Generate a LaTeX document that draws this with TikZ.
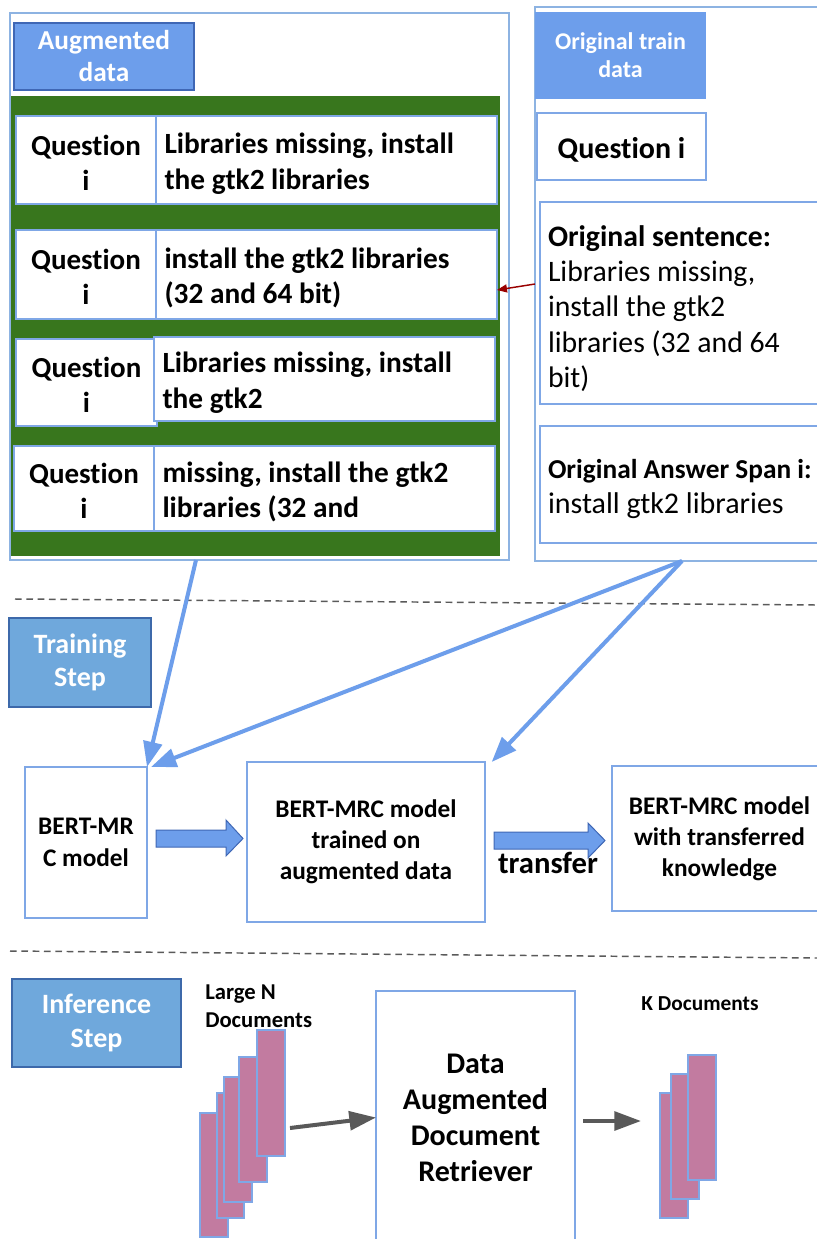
\documentclass[tikz,border=0pt]{standalone}
\usepackage{fontspec}
\setmainfont{Carlito}[Ligatures=NoCommon]
\usetikzlibrary{arrows.meta}
\definecolor{hdrblue}{HTML}{6D9EEB}
\definecolor{hdrborder}{HTML}{3F67B5}
\definecolor{stepblue}{HTML}{6FA8DC}
\definecolor{stepborder}{HTML}{3D69AA}
\definecolor{framblue}{HTML}{8DB3E2}
\definecolor{cellblue}{HTML}{7FA7E6}
\definecolor{greenbg}{HTML}{38761D}
\definecolor{docpink}{HTML}{C27BA0}
\definecolor{arrowblue}{HTML}{6D9EEB}
\definecolor{arrowgray}{HTML}{595959}
\definecolor{darkred}{HTML}{990000}
\definecolor{dashgray}{HTML}{5A5A5A}
\newcommand\fs[2]{\fontsize{#1}{#2}\selectfont}
\newcommand\up[1]{\rule{0pt}{#1}}
\newcommand\bx[7]{\node[#6, minimum width={(#4-#2)*0.75pt}, minimum height={(#5-#3)*0.75pt}, anchor=north west] (#1) at (#2,#3) {#7};}
\tikzset{
  base/.style={inner sep=0pt, outer sep=0pt, line width=0.9pt},
  frame/.style={base, draw=framblue, fill=white},
  cell/.style={base, draw=cellblue, fill=white},
  hdr/.style={base, fill=hdrblue, draw=hdrborder, text=white, align=center},
  stepbox/.style={base, fill=stepblue, draw=stepborder, text=white, align=center},
  greenpanel/.style={base, fill=greenbg, draw=none},
  doc/.style={base, fill=docpink, draw=cellblue},
  bluearrow/.style={draw=arrowblue, line width=3pt, -{Triangle[length=19pt,width=14pt]}},
  grayarrow/.style={draw=arrowgray, line width=3pt, -{Triangle[length=20pt,width=14pt]}},
  redarrow/.style={draw=darkred, line width=1.1pt, -{Triangle[length=7.5pt,width=6pt]}},
  blockarrow/.style={fill=arrowblue, draw=hdrborder, line width=0.75pt},
  sepline/.style={draw=dashgray, line width=1.1pt, dash pattern=on 5pt off 3.5pt},
  qcell/.style={cell, align=center, font={\bfseries\fs{21.75}{26.3}}},
  acell/.style={cell, align=flush left, text width=243pt, font={\bfseries\fs{22}{26.5}}},
}
\begin{document}
\begin{tikzpicture}[x=0.75pt,y=-0.75pt]
\path[use as bounding box, clip] (0,0) rectangle (817,1239);
\fill[white] (0,0) rectangle (817,1239);

% separators
\coordinate (s1a) at (15,599); \coordinate (s1b) at (817,605);
\coordinate (s2a) at (10,951); \coordinate (s2b) at (817,958);
\draw[sepline] (s1a) -- (s1b);
\draw[sepline] (s2a) -- (s2b);

% augmented data panel
\bx{augouter}{10}{13}{509}{560}{frame}{}
\bx{aughdr}{14}{23}{194}{90}{hdr, font={\bfseries\fs{20.5}{24}}}{Augmented\\data}
\bx{green}{11}{96}{500}{556}{greenpanel}{}
\bx{q1}{16}{116}{156}{204}{qcell}{\up{19pt}Question\\i}
\bx{a1}{156}{116}{497}{204}{acell}{\up{21pt}Libraries missing, install\\the gtk2 libraries}
\bx{q2}{16}{230}{156}{319}{qcell}{\up{19pt}Question\\i}
\bx{a2}{156}{230}{497}{319}{acell}{\up{21pt}install the gtk2 libraries\\(32 and 64 bit)}
\bx{q3}{16}{339}{157}{426}{qcell}{\up{19pt}Question\\i}
\bx{a3}{154}{337}{495}{421}{acell}{\up{21pt}Libraries missing, install\\the gtk2}
\bx{q4}{14}{446}{154}{531}{qcell}{\up{19pt}Question\\i}
\bx{a4}{154}{446}{495}{531}{acell}{\up{21pt}missing, install the gtk2\\libraries (32 and}

% original train data panel
\bx{origouter}{535}{7}{830}{561}{frame}{}
\bx{orighdr}{535}{12}{706}{99}{hdr, draw=none, font={\bfseries\fs{18}{21}}}{Original train\\data}
\bx{origq}{537}{113}{706}{180}{cell, font={\bfseries\fs{22.5}{27}}}{\up{20.5pt}Question i}
\bx{sent}{540}{202}{830}{404}{cell, align=flush left, text width=205.5pt, font={\fs{22.3}{26.6}}}{\up{24pt}\textbf{Original sentence:}\\Libraries missing,\\install the gtk2\\libraries (32 and 64\\bit)}
\bx{ans}{540}{426}{830}{543}{cell, align=flush left, text width=205.5pt, font={\fs{22.5}{26.3}}}{\up{21.5pt}{\fs{20.5}{26.3}\bfseries Original Answer Span i:}\\install gtk2 libraries}

% red arrow
\draw[redarrow] (origouter.west |- 0,284) -- (a2.east |- 0,290);

% training step
\bx{train}{9}{618}{151}{707}{stepbox, font={\bfseries\fs{21}{25}}}{Training\\Step}
\bx{bert1}{25}{767}{147}{918}{cell, align=center, font={\bfseries\fs{19}{24}}}{BERT-MR\\C model}
\bx{bert2}{247}{762}{485}{922}{cell, align=center, font={\bfseries\fs{19}{23.3}}}{BERT-MRC model\\trained on\\augmented data}
\bx{bert3}{612}{766}{827}{911}{cell, align=center, font={\bfseries\fs{19}{23.3}}}{BERT-MRC model\\with transferred\\knowledge}

% block arrows
\draw[blockarrow] (156,830) -- (226,830) -- (226,820) -- (243,838.5) -- (226,856) -- (226,847) -- (156,847) -- cycle;
\draw[blockarrow] (494,832) -- (588,832) -- (588,823) -- (605,840.5) -- (588,858) -- (588,849) -- (494,849) -- cycle;
\node[font={\bfseries\fs{23}{27}}, anchor=base, inner sep=0pt] (transfer) at (548,873) {transfer};

% blue arrows
\coordinate (augout) at (196,560);
\coordinate (origout) at (682,561);
\draw[bluearrow] (augout) -- (bert1.north east);
\draw[bluearrow] (origout) -- ([xshift=3pt]bert1.north east);
\draw[bluearrow] (origout) -- ([xshift=5pt]bert2.north east);

% inference step
\bx{infer}{12}{979}{181}{1067}{stepbox, font={\bfseries\fs{21}{25.5}}}{Inference\\Step}
\node[font={\bfseries\fs{17}{21}}, align=left, anchor=north west, inner sep=0pt] (largeN) at (205,985) {Large N\\Documents};
\bx{d1}{200}{1113}{228}{1237}{doc}{}
\bx{d2}{217}{1093}{244}{1218}{doc}{}
\bx{d3}{224}{1077}{252}{1202}{doc}{}
\bx{d4}{239}{1057}{267}{1182}{doc}{}
\bx{d5}{257}{1030}{285}{1156}{doc}{}
\bx{retr}{376}{991}{575}{1244}{cell, align=center, font={\bfseries\fs{22.5}{27}}}{Data\\Augmented\\Document\\Retriever}
\coordinate (g1s) at (290,1128);
\draw[grayarrow] (g1s) -- (retr.west);
\coordinate (g2s) at (583,1121);
\coordinate (g2e) at (641,1121);
\draw[grayarrow] (g2s) -- (g2e);
\node[font={\bfseries\fs{16}{19}}, anchor=base, inner sep=0pt] (kdocs) at (700,1010) {K Documents};
\bx{k1}{660}{1093}{688}{1218}{doc}{}
\bx{k2}{671}{1074}{699}{1199}{doc}{}
\bx{k3}{688}{1055}{716}{1180}{doc}{}
\end{tikzpicture}
\end{document}
